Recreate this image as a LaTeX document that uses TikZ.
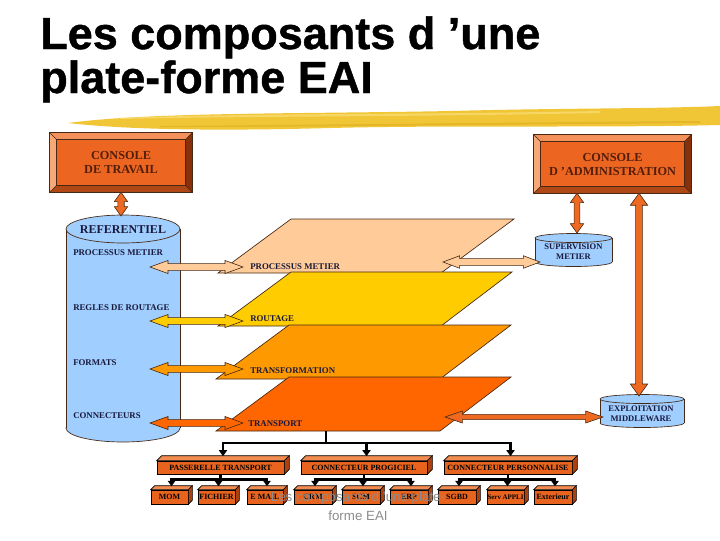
\documentclass[tikz,border=0pt]{standalone}
\usepackage{fontspec}
\setmainfont{Liberation Serif}
\newfontfamily\sansf{Liberation Sans}
\newfontfamily\titlef{Liberation Sans Bold}[FakeBold=1]
\usetikzlibrary{arrows.meta,calc,backgrounds}

\definecolor{peach}{RGB}{255,204,153}
\definecolor{yel}{RGB}{255,204,0}
\definecolor{org}{RGB}{255,153,0}
\definecolor{dorg}{RGB}{255,102,0}
\definecolor{cylblue}{RGB}{160,206,255}
\definecolor{cface}{RGB}{236,102,34}
\definecolor{cbtop}{RGB}{244,145,90}
\definecolor{cbleft}{RGB}{248,168,118}
\definecolor{cbbot}{RGB}{175,72,20}
\definecolor{cbright}{RGB}{135,48,10}
\definecolor{ctext}{RGB}{85,30,10}
\definecolor{lblc}{RGB}{25,25,60}
\definecolor{brush}{RGB}{240,198,55}
\definecolor{brushlt}{RGB}{250,222,120}
\definecolor{brushdk}{RGB}{222,172,30}
\definecolor{tface}{RGB}{232,100,30}
\definecolor{ttop}{RGB}{242,140,80}
\definecolor{tside}{RGB}{170,65,15}
\definecolor{foot}{RGB}{140,140,140}
\definecolor{arrred}{RGB}{238,106,34}
\definecolor{darkline}{RGB}{70,40,20}

\tikzset{
  titlestyle/.style={inner sep=0, anchor=base west, font=\titlef\fontsize{33.75}{40}\selectfont},
  cons/.style={inner sep=0, align=center, text=ctext, font=\bfseries\fontsize{9.2}{10.5}\selectfont},
  layerbox/.style={draw=darkline, line width=0.5pt},
  lbl/.style={inner sep=0, anchor=west, text=lblc, font=\bfseries\fontsize{6.6}{8}\selectfont},
  cyllbl/.style={inner sep=0, align=center, text=lblc, font=\bfseries\fontsize{6.4}{7.5}\selectfont},
  darr/.style={draw=darkline, line width=0.45pt},
  cylst/.style={draw=darkline, line width=0.5pt, fill=cylblue},
  tbx/.style={draw=black, line width=0.45pt, fill=tface, inner sep=0, text=black, font=\bfseries\fontsize{6}{7}\selectfont},
  tbx3/.style={draw=black, line width=0.45pt},
  treeline/.style={line width=2pt, black},
  treearr/.style={line width=2pt, black, -{Triangle[width=6pt,length=4.5pt]}},
  treearrs/.style={line width=1.8pt, black, -{Triangle[width=5.5pt,length=4pt]}},
  foottxt/.style={inner sep=0, text=foot, font=\sansf\fontsize{10}{12}\selectfont}
}

% horizontal double arrow: from, to, fill, head length, head half width, shaft half width
\newcommand{\hdarr}[6]{%
  \filldraw[darr, fill=#3] let \p1=#1, \p2=#2 in
   (\x1,\y1) -- (\x1+#4,\y1+#5) -- (\x1+#4,\y1+#6) -- (\x2-#4,\y1+#6) -- (\x2-#4,\y1+#5)
   -- (\x2,\y1) -- (\x2-#4,\y1-#5) -- (\x2-#4,\y1-#6) -- (\x1+#4,\y1-#6) -- (\x1+#4,\y1-#5) -- cycle;}
% vertical double arrow: from (top), to (bottom), fill, head length, head half width, shaft half width
\newcommand{\vdarr}[6]{%
  \filldraw[darr, fill=#3] let \p1=#1, \p2=#2 in
   (\x1,\y1) -- (\x1+#5,\y1-#4) -- (\x1+#6,\y1-#4) -- (\x1+#6,\y2+#4) -- (\x1+#5,\y2+#4)
   -- (\x1,\y2) -- (\x1-#5,\y2+#4) -- (\x1-#6,\y2+#4) -- (\x1-#6,\y1-#4) -- (\x1-#5,\y1-#4) -- cycle;}
% cylinder: cx, top cy, bottom cy, rx, ry
\newcommand{\cyl}[5]{%
  \filldraw[cylst] (#1,#3) ellipse ({#4} and {#5});
  \fill[cylblue] (#1-#4,#2) rectangle (#1+#4,#3);
  \draw[darkline, line width=0.5pt] (#1-#4,#2) -- (#1-#4,#3) (#1+#4,#2) -- (#1+#4,#3);
  \filldraw[cylst] (#1,#2) ellipse ({#4} and {#5});}
% bevelled console frame around node #1
\newcommand{\bevel}[1]{%
  \begin{pgfonlayer}{background}
  \fill[cface] (#1.north west) rectangle (#1.south east);
  \fill[cbtop] (#1.north west) -- (#1.north east) -- ($(#1.north east)+(-7,7)$) -- ($(#1.north west)+(7,7)$) -- cycle;
  \fill[cbleft] (#1.north west) -- ($(#1.north west)+(7,7)$) -- ($(#1.south west)+(7,-7)$) -- (#1.south west) -- cycle;
  \fill[cbbot] (#1.south west) -- ($(#1.south west)+(7,-7)$) -- ($(#1.south east)+(-7,-7)$) -- (#1.south east) -- cycle;
  \fill[cbright] (#1.north east) -- (#1.south east) -- ($(#1.south east)+(-7,-7)$) -- ($(#1.north east)+(-7,7)$) -- cycle;
  \draw[darkline, line width=0.5pt] (#1.north west) rectangle (#1.south east);
  \draw[darkline, line width=0.4pt] ($(#1.north west)+(7,7)$) rectangle ($(#1.south east)+(-7,-7)$);
  \draw[darkline, line width=0.3pt] (#1.north west) -- ++(7,7) (#1.north east) -- ++(-7,7)
     (#1.south west) -- ++(7,-7) (#1.south east) -- ++(-7,-7);
  \end{pgfonlayer}}
% 3D box: name, x, y, width, height, depth, text
\newcommand{\tbox}[7]{%
  \node[tbx, minimum width=#4*0.75pt, minimum height=#5*0.75pt] (#1) at (#2,#3) {#7};
  \filldraw[tbx3, fill=ttop] (#1.north west) -- ++(#6,-#6) -- ($(#1.north east)+(#6,-#6)$) -- (#1.north east) -- cycle;
  \filldraw[tbx3, fill=tside] (#1.north east) -- ++(#6,-#6) -- ($(#1.south east)+(#6,-#6)$) -- (#1.south east) -- cycle;}

\begin{document}
\begin{tikzpicture}[x=0.75pt,y=-0.75pt]
\useasboundingbox (0,0) rectangle (720,540);

% ---------- title ----------
\node[titlestyle] (t1) at (40,49) {Les composants d ’une};
\node[titlestyle] (t2) at (40,93) {plate-forme EAI};

% brush stroke
\fill[brush] (68,123) .. controls (150,112) and (300,114) .. (450,111)
  .. controls (560,108) and (650,109) .. (720,106) -- (720,125)
  .. controls (600,128) and (450,125) .. (330,128)
  .. controls (220,131) and (130,130) .. (68,123) -- cycle;
\fill[brushlt, opacity=0.7] (120,118) .. controls (250,113) and (400,115) .. (600,111)
  -- (600,113) .. controls (400,117) and (250,116) .. (120,119) -- cycle;
\fill[brushdk, opacity=0.6] (160,126) .. controls (300,125) and (450,123) .. (700,121)
  -- (700,123) .. controls (450,125) and (300,127) .. (160,127) -- cycle;

% ---------- consoles ----------
\node[cons, minimum width=142*0.75pt, minimum height=59*0.75pt] (ct) at (121,162.5) {CONSOLE\\DE TRAVAIL};
\bevel{ct}
\node[cons, minimum width=157*0.75pt, minimum height=58*0.75pt] (ca) at (612.5,164) {CONSOLE\\D ’ADMINISTRATION};
\bevel{ca}

% ---------- layers ----------
\filldraw[layerbox, fill=peach] (218,273) -- (441,273) -- (514,219) -- (291,219) -- cycle;
\filldraw[layerbox, fill=yel]   (218,326) -- (441,326) -- (512,272) -- (291,272) -- cycle;
\filldraw[layerbox, fill=org]   (216,379) -- (440,379) -- (511,325) -- (289,325) -- cycle;
\filldraw[layerbox, fill=dorg]  (216,431) -- (440,431) -- (511,377) -- (289,377) -- cycle;

% ---------- referentiel ----------
\cyl{123}{229}{428}{57}{14}
\node[inner sep=0, font=\bfseries\fontsize{9}{11}\selectfont, text=lblc] (ref) at (123,230) {REFERENTIEL};
\node[lbl] (rpm) at (73,253) {PROCESSUS METIER};
\node[lbl] (rrg) at (73,308) {REGLES DE ROUTAGE};
\node[lbl] (rfm) at (73,363) {FORMATS};
\node[lbl] (rcn) at (73,416) {CONNECTEURS};

% ---------- supervision / exploitation ----------
\cyl{573.5}{238}{262}{38.5}{4.5}
\node[cyllbl] (sup) at (573.5,252) {SUPERVISION\\METIER};
\cyl{642}{399}{423}{42}{4.5}
\node[cyllbl] (exp) at (641,414) {EXPLOITATION\\MIDDLEWARE};

% ---------- layer labels ----------
\node[lbl] (lpm) at (250,267) {PROCESSUS METIER};
\node[lbl] (lrt) at (250,319) {ROUTAGE};
\node[lbl] (ltf) at (250,371) {TRANSFORMATION};
\node[lbl] (ltp) at (248,424) {TRANSPORT};

% ---------- arrow end points ----------
\coordinate (a1l) at (150,267); \coordinate (a1r) at (243,267);
\coordinate (a2l) at (150,321); \coordinate (a2r) at (243,321);
\coordinate (a3l) at (150,369); \coordinate (a3r) at (243,369);
\coordinate (a4l) at (150,423); \coordinate (a4r) at (243,423);
\coordinate (pmr) at (443,262); \coordinate (supw) at (540,262);
\coordinate (tpr) at (445,417); \coordinate (expw) at (603,417);
\coordinate (reftop) at (121,216);
\coordinate (suptop) at (577,233);
\coordinate (exptop) at (639,396);

% ---------- double arrows ----------
\hdarr{(a1l)}{(a1r)}{peach}{13.5pt}{4.9pt}{2.5pt}
\hdarr{(a2l)}{(a2r)}{yel}{13.5pt}{4.9pt}{2.5pt}
\hdarr{(a3l)}{(a3r)}{org}{13.5pt}{4.9pt}{2.5pt}
\hdarr{(a4l)}{(a4r)}{dorg}{13.5pt}{4.9pt}{2.5pt}
\hdarr{(pmr)}{(supw)}{peach}{12.5pt}{4.7pt}{2.5pt}
\hdarr{(tpr)}{(expw)}{arrred}{13pt}{4.5pt}{2pt}
\vdarr{(ct.south)}{(reftop)}{arrred}{7pt}{5pt}{2.4pt}
\vdarr{($(ca.south)+(-35.5,0)$)}{(suptop)}{arrred}{7pt}{5pt}{2.2pt}
\vdarr{($(ca.south)+(26.5,0)$)}{(exptop)}{arrred}{9pt}{6.5pt}{2.5pt}

% ---------- tree ----------
\tbox{pt}{220.5}{467.5}{127}{13}{5}{PASSERELLE TRANSPORT}
\tbox{cp}{364}{467.5}{126}{13}{5}{CONNECTEUR PROGICIEL}
\tbox{cpe}{508}{467.5}{128}{13}{5}{CONNECTEUR PERSONNALISE}

\tbox{mom}{169.5}{497}{37}{14}{4}{MOM}
\tbox{fic}{216.5}{497}{37}{14}{4}{FICHIER}
\tbox{mail}{265}{497}{36}{14}{4}{E MAIL}
\tbox{crm}{313}{497}{38}{14}{4}{CRM}
\tbox{scm}{361}{497}{38}{14}{4}{SCM}
\tbox{erp}{409}{497}{38}{14}{4}{ERP}
\tbox{sgbd}{457}{497}{38}{14}{4}{SGBD}
\tbox{serv}{505.5}{497}{37}{14}{4}{\fontsize{5.2}{6}\selectfont Serv APPLI}
\tbox{ext}{553}{497}{38}{14}{4}{Exterieur}

\coordinate (tpb) at (326,431);
\draw[treeline] (tpb) -- ++(0,12) coordinate (tj);
\draw[treearr] (tj) -| ($(pt.north)+(2.5,-4.5)$);
\draw[treearr] (tj) -| ($(cp.north)+(2.5,-4.5)$);
\draw[treearr] (tj) -| ($(cpe.north)+(2.5,-4.5)$);

\draw[treeline] (pt.south) -- ++(0,5) coordinate (ptj);
\draw[treearrs] (ptj) -| ($(mom.north)+(2,-3.5)$);
\draw[treearrs] (ptj) -| ($(fic.north)+(2,-3.5)$);
\draw[treearrs] (ptj) -| ($(mail.north)+(2,-3.5)$);
\draw[treeline] (cp.south) -- ++(0,5) coordinate (cpj);
\draw[treearrs] (cpj) -| ($(crm.north)+(2,-3.5)$);
\draw[treearrs] (cpj) -| ($(scm.north)+(2,-3.5)$);
\draw[treearrs] (cpj) -| ($(erp.north)+(2,-3.5)$);
\draw[treeline] (cpe.south) -- ++(0,5) coordinate (cpej);
\draw[treearrs] (cpej) -| ($(sgbd.north)+(2,-3.5)$);
\draw[treearrs] (cpej) -| ($(serv.north)+(2,-3.5)$);
\draw[treearrs] (cpej) -| ($(ext.north)+(2,-3.5)$);

% ---------- footer ----------
\node[foottxt] (f1) at (358,498) {Les composants d ’une plate-};
\node[foottxt] (f2) at (358,516) {forme EAI};
\end{tikzpicture}
\end{document}
